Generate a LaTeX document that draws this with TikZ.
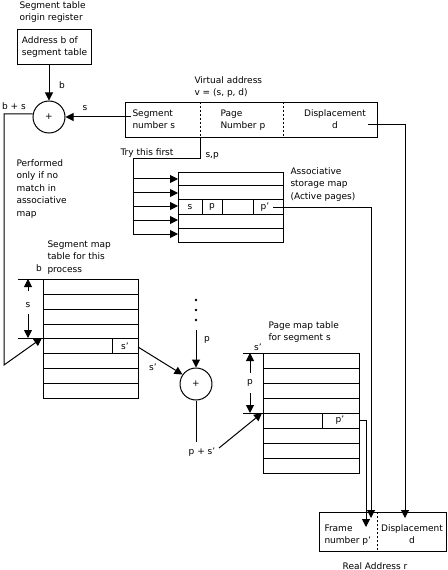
\documentclass[tikz,border=0pt]{standalone}
\usepackage{fontspec}
\setmainfont{DejaVu Sans}
\usetikzlibrary{arrows.meta}
\newcommand\pxu{0.75pt}
\begin{document}
\begin{tikzpicture}[x=0.75pt,y=-0.75pt,
  font=\fontsize{6.75}{9.4}\selectfont, line width=0.75pt,
  arr/.style={-{Triangle[length=6pt,width=6pt]}},
  txt/.style={inner sep=0pt, align=left, anchor=north west},
  ctxt/.style={inner sep=0pt, align=center, anchor=north},
  lbl/.style={inner sep=0pt},
  dsh/.style={dash pattern=on 1.5pt off 1.5pt},
  tbox/.style={draw, inner sep=0pt, anchor=north west},
  sumc/.style={draw, circle, minimum size=32*\pxu, inner sep=0pt}]
\useasboundingbox (0,0) rectangle (447,570);

% ---------- top left: segment table origin register ----------
\node[txt] (sto) at (19,1) {Segment table\\origin register};
\node[tbox, minimum width=74*\pxu, minimum height=35*\pxu, align=left] (addr) at (17,29) {Address b of\\segment table};
\node[sumc] (c1) at (49,117) {+};
\node[lbl] (lb) at (62,85) {b};
\node[lbl] (lbs) at (14,106) {b + s};
\node[lbl] (ls) at (85,108) {s};
\draw[arr] (addr.south -| c1.north) -- (c1.north);

% ---------- virtual address ----------
\node[txt] (vat) at (194,76) {Virtual address\\v = (s, p, d)};
\node[tbox, minimum width=252*\pxu, minimum height=35*\pxu] (va) at (125,102) {};
\draw[dsh] (200,102) -- (200,137);
\draw[dsh] (283,102) -- (283,137);
\node[txt] (vas) at (132,109) {Segment\\number s};
\node[txt] (vap) at (220,109) {Page\\Number p};
\node[ctxt] (vad) at (335,109) {Displacement\\d};
\coordinate (segin) at (131,117);
\draw[arr] (segin) -- (c1.east);

% ---------- performed text ----------
\node[txt] (perf) at (16,159) {Performed\\only if no\\match in\\associative\\map};

% ---------- try this first / associative map ----------
\node[txt] (try) at (120,148) {Try this first};
\node[lbl, anchor=north west] (sp) at (205,152) {s,p};
\node[tbox, minimum width=105*\pxu, minimum height=70*\pxu] (assoc) at (178,172) {};
\foreach \y in {186,200,214,228} \draw (178,\y) -- (283,\y);
\foreach \x in {202,222,253} \draw (\x,200) -- (\x,214);
\node[lbl] (as) at (190,207) {s};
\node[lbl] (ap) at (212,207) {p};
\node[lbl] (app) at (265,207) {p'};
\node[txt] (asst) at (290,167) {Associative\\storage map\\(Active pages)};
\coordinate (t0) at (200,137);
\coordinate (t1) at (200,159);
\coordinate (t2) at (133,159);
\coordinate (t3) at (133,234);
\draw (t0) -- (t1) -- (t2) -- (t3);
\foreach \y in {179,193,206,220,234} \draw[arr] (133,\y) -- (assoc.west |- 133,\y);

% ---------- segment map table ----------
\node[txt] (smt) at (47,240) {Segment map\\table for this\\process};
\node[lbl] (lb2) at (39,268) {b};
\node[tbox, minimum width=95*\pxu, minimum height=119*\pxu] (seg) at (43,279) {};
\foreach \y in {294,309,324,338,353,368,383} \draw (43,\y) -- (138,\y);
\draw (112,338) -- (112,353);
\node[lbl] (ssp) at (125,346) {s'};
\draw (18,279) -- (43,279);
\draw (18,338) -- (43,338);
\draw[arr] (28,291) -- (28,279);
\node[lbl] (sdim) at (28,305) {s};
\draw[arr] (28,314) -- (28,338);
\coordinate (bs1) at (4,114);
\coordinate (bs2) at (4,365);
\coordinate (segrow) at (42,338);
\draw[arr] (c1.west |- bs1) -- (bs1) -- (bs2) -- (segrow);

% ---------- second adder ----------
\node[sumc] (c2) at (196,384) {+};
\foreach \y/\n in {300/d1,310/d2,320/d3} \fill (196,\y) circle (1.4);
\coordinate (pstart) at (196,330);
\draw[arr] (pstart) -- (c2.north);
\node[lbl] (lp) at (207,340) {p};
\coordinate (sp0) at (138,347);
\draw[arr] (sp0) -- (c2.145);
\node[lbl] (lsp) at (153,367) {s'};
\coordinate (c2end) at (196,442);
\draw (c2.south) -- (c2end);
\node[lbl] (lps) at (202,452) {p + s'};

% ---------- page map table ----------
\node[txt] (pmt) at (268,321) {Page map table\\for segment s};
\node[lbl] (lsp2) at (258,347) {s'};
\node[tbox, minimum width=96*\pxu, minimum height=120*\pxu] (pg) at (263,353) {};
\foreach \y in {368,383,398,413,428,443,458} \draw (263,\y) -- (359,\y);
\draw (322,413) -- (322,428);
\node[lbl] (pgp) at (340,420) {p'};
\draw (243,353) -- (263,353);
\draw (243,413) -- (263,413);
\draw[arr] (250,373) -- (250,353);
\node[lbl] (pdim) at (250,383) {p};
\draw[arr] (250,393) -- (250,413);
\coordinate (ps0) at (219,448);
\coordinate (pgrow) at (262,413);
\draw[arr] (ps0) -- (pgrow);

% ---------- real address ----------
\node[tbox, minimum width=127*\pxu, minimum height=39*\pxu] (ra) at (319,512) {};
\draw[dsh] (377,512) -- (377,551);
\node[txt] (raf) at (324,524) {Frame\\number p'};
\node[ctxt] (rad) at (412,524) {Displacement\\d};
\node[lbl, anchor=base] (rat) at (375,569) {Real Address r};

% ---------- long connectors ----------
\coordinate (d0) at (368,125);
\coordinate (d1) at (405,125);
\coordinate (d2) at (405,518);
\draw[arr] (d0) -- (d1) -- (d2);
\coordinate (a0) at (273,207);
\coordinate (a1) at (371,207);
\coordinate (a2) at (371,518);
\draw[arr] (a0) -- (a1) -- (a2);
\coordinate (g0) at (359,420);
\coordinate (g1) at (366,420);
\coordinate (g2) at (366,527);
\draw[arr] (g0) -- (g1) -- (g2);
\end{tikzpicture}
\end{document}
